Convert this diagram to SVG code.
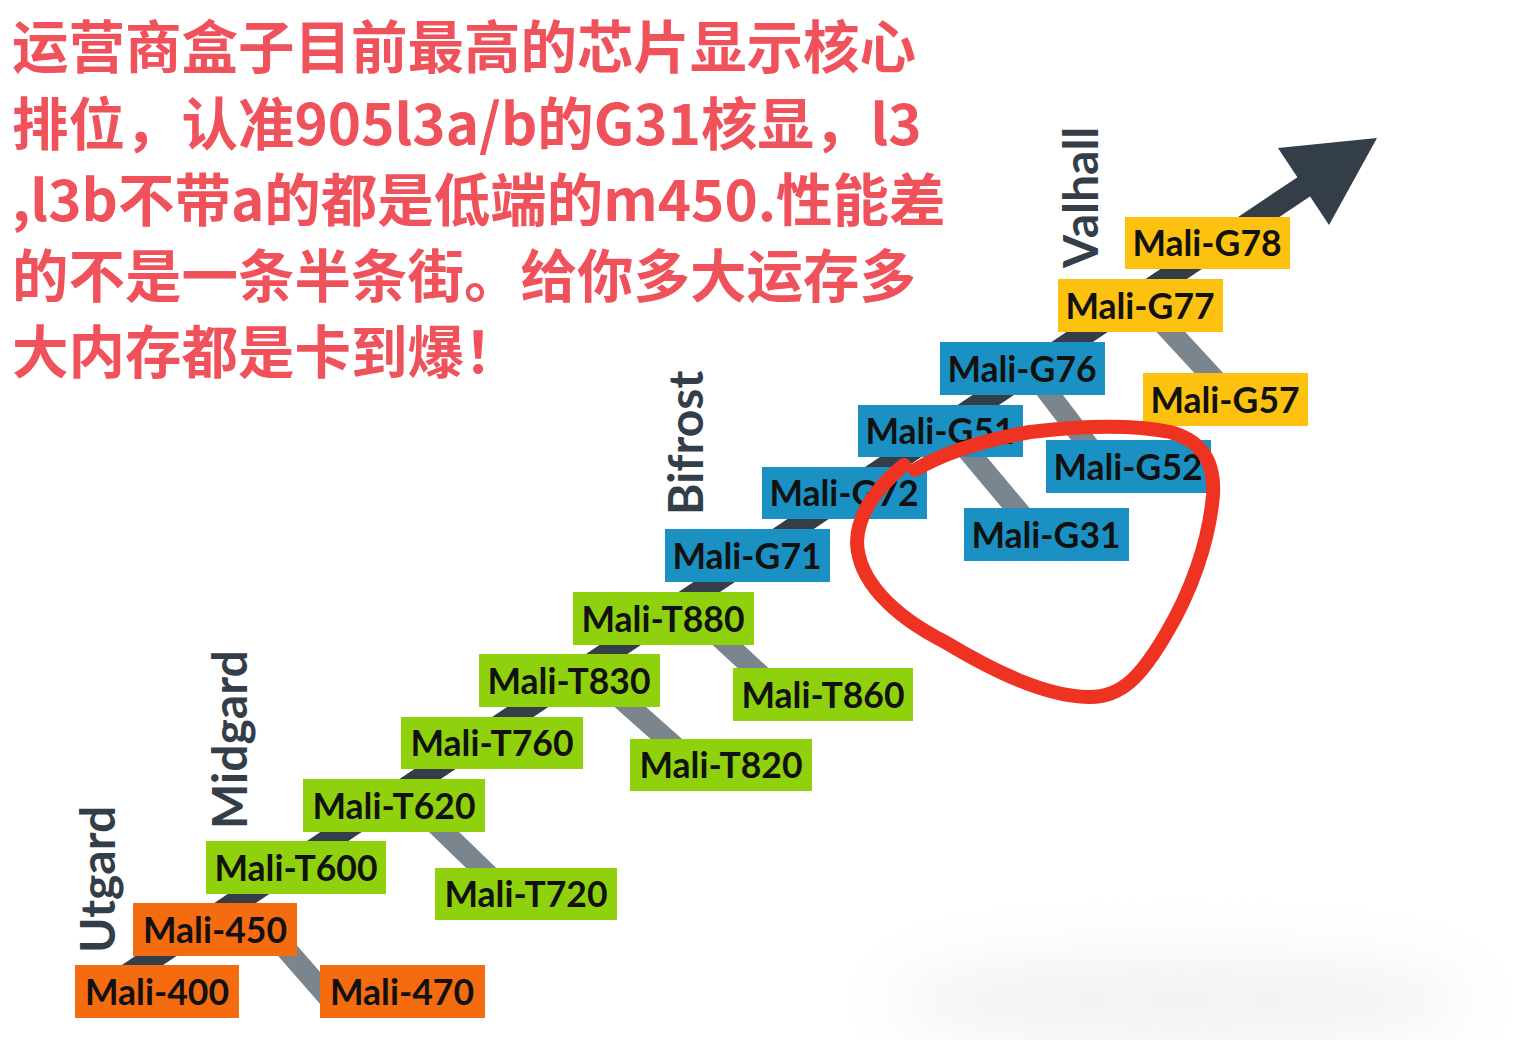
<svg xmlns="http://www.w3.org/2000/svg" width="1519" height="1040" viewBox="0 0 1519 1040">
<style>
.box text{font-family:Lato,"Liberation Sans",sans-serif;font-weight:700;font-size:35.5px;fill:#111;text-anchor:middle}
.o rect{fill:#f56b0f}
.g rect{fill:#8fd10c}
.b rect{fill:#1b91c3}
.y rect{fill:#fdc10f}
.fam{font-family:Lato,"Liberation Sans",sans-serif;font-weight:700;font-size:48px;fill:#333e48}
.note{font-family:"Noto Sans CJK SC","Noto Sans",sans-serif;font-weight:700;font-size:56.5px;fill:#f0525c}
.main{stroke:#333e48;stroke-width:23;fill:none}
.br{stroke:#7b858d;stroke-width:21;fill:none}
</style>
<defs>
<filter id="blur" x="-50%" y="-200%" width="200%" height="500%"><feGaussianBlur stdDeviation="30"/></filter>
</defs>
<rect width="1519" height="1040" fill="#fff"/>
<ellipse cx="1180" cy="1000" rx="290" ry="45" fill="#e2e2e2" opacity="0.45" filter="url(#blur)"/>
<g id="connectors">
<line class="main" x1="100" y1="993.5" x2="1308" y2="184"/>
<polygon points="1377,138 1278,148 1329,225" fill="#333e48"/>
<line class="br" x1="265" y1="925" x2="335" y2="1005"/>
<line class="br" x1="414" y1="803" x2="505" y2="891"/>
<line class="br" x1="600" y1="680" x2="690" y2="760"/>
<line class="br" x1="700" y1="619" x2="780" y2="693"/>
<line class="br" x1="943" y1="421" x2="1046" y2="544"/>
<line class="br" x1="1027" y1="365" x2="1107" y2="470"/>
<line class="br" x1="1145" y1="304" x2="1230" y2="396"/>
</g>
<g id="n400" class="box o"><rect x="75" y="965" width="164" height="53"/><text x="157" y="1005">Mali-400</text></g>
<g id="n450" class="box o"><rect x="133" y="903" width="164" height="53"/><text x="215" y="943">Mali-450</text></g>
<g id="n470" class="box o"><rect x="320" y="965" width="165" height="53"/><text x="402" y="1005">Mali-470</text></g>
<g id="nT600" class="box g"><rect x="206" y="841" width="180" height="53"/><text x="296" y="881">Mali-T600</text></g>
<g id="nT620" class="box g"><rect x="303" y="779" width="182" height="53"/><text x="394" y="819">Mali-T620</text></g>
<g id="nT720" class="box g"><rect x="435" y="868" width="182" height="52"/><text x="526" y="907">Mali-T720</text></g>
<g id="nT760" class="box g"><rect x="401" y="717" width="182" height="52"/><text x="492" y="756">Mali-T760</text></g>
<g id="nT830" class="box g"><rect x="479" y="654" width="181" height="53"/><text x="569" y="694">Mali-T830</text></g>
<g id="nT820" class="box g"><rect x="630" y="739" width="182" height="52"/><text x="721" y="778">Mali-T820</text></g>
<g id="nT880" class="box g"><rect x="573" y="592" width="181" height="53"/><text x="663" y="632">Mali-T880</text></g>
<g id="nT860" class="box g"><rect x="733" y="668" width="180" height="53"/><text x="823" y="708">Mali-T860</text></g>
<g id="nG71" class="box b"><rect x="665" y="529" width="165" height="53"/><text x="747" y="569">Mali-G71</text></g>
<g id="nG72" class="box b"><rect x="762" y="467" width="165" height="52"/><text x="844" y="506">Mali-G72</text></g>
<g id="nG51" class="box b"><rect x="858" y="405" width="165" height="52"/><text x="940" y="444">Mali-G51</text></g>
<g id="nG31" class="box b"><rect x="964" y="508" width="165" height="53"/><text x="1046" y="548">Mali-G31</text></g>
<g id="nG76" class="box b"><rect x="940" y="342" width="165" height="53"/><text x="1022" y="382">Mali-G76</text></g>
<g id="nG52" class="box b"><rect x="1046" y="440" width="165" height="53"/><text x="1128" y="480">Mali-G52</text></g>
<g id="nG77" class="box y"><rect x="1058" y="279" width="165" height="53"/><text x="1140" y="319">Mali-G77</text></g>
<g id="nG57" class="box y"><rect x="1143" y="373" width="165" height="53"/><text x="1225" y="413">Mali-G57</text></g>
<g id="nG78" class="box y"><rect x="1125" y="217" width="165" height="52"/><text x="1207" y="256">Mali-G78</text></g>
<g id="families">
<text class="fam" transform="translate(115,953) rotate(-90)">Utgard</text>
<text class="fam" transform="translate(247,829) rotate(-90)">Midgard</text>
<text class="fam" transform="translate(703,515) rotate(-90)">Bifrost</text>
<text class="fam" transform="translate(1098,268) rotate(-90)">Valhall</text>
</g>
<path id="circle" d="M904,465 C880,485 858,510 857,542 C858,580 892,615 945,642 C995,672 1045,696 1088,697 C1122,698 1142,675 1166,634 C1191,592 1209,542 1213,495 C1215,460 1200,440 1170,432 C1130,424 1080,426 1030,432 C985,440 945,452 915,470" fill="none" stroke="#ee3322" stroke-width="14" stroke-linecap="round" stroke-linejoin="round"/>
<g id="note">
<text class="note" x="12" y="68">运营商盒子目前最高的芯片显示核心</text>
<text class="note" x="12" y="145">排位，认准905l3a/b的G31核显，l3</text>
<text class="note" x="12" y="221">,l3b不带a的都是低端的m450.性能差</text>
<text class="note" x="12" y="297">的不是一条半条街。给你多大运存多</text>
<text class="note" x="12" y="373">大内存都是卡到爆！</text>
</g>
</svg>
